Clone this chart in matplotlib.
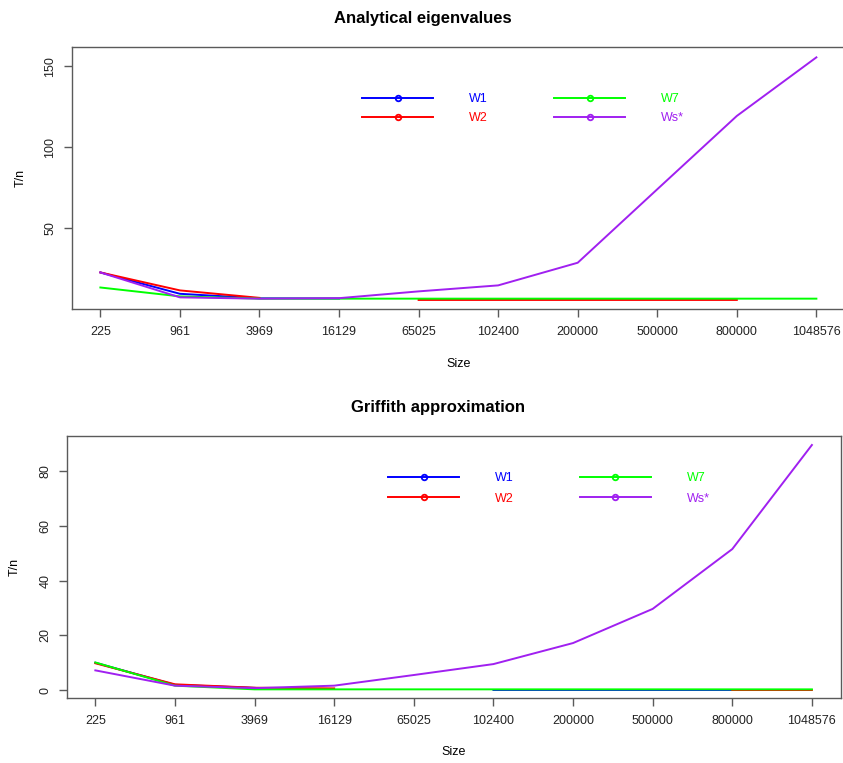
import numpy as np
import matplotlib
matplotlib.use("Agg")
import matplotlib.pyplot as plt
from matplotlib.lines import Line2D

plt.rcParams['font.family'] = ['Liberation Sans', 'DejaVu Sans']

nan = np.nan
sizes = ["225", "961", "3969", "16129", "65025", "102400",
         "200000", "500000", "800000", "1048576"]
labels = ["W1", "W2", "W7", "Ws*"]
colors = ["#0000FF", "#FF0000", "#00FF00", "#A020F0"]

# Analytical eigenvalues (T/n)
an_w1 = [22.6, 9.4, 6.6, 6.5, nan, nan, nan, nan, nan, nan]
an_w2 = [22.6, 11.5, 6.9, nan, 5.6, 5.6, 5.6, 5.6, 5.6, nan]
an_w7 = [13.3, 7.8, 6.4, 6.4, 6.4, 6.4, 6.4, 6.4, 6.4, 6.4]
an_ws = [22.6, 7.2, 6.4, 6.7, 10.9, 14.6, 28.6, 74.0, 119.3, 155.5]

# Griffith approximation (T/n)
gr_w1 = [10.0, 1.9, 0.8, nan, nan, 0.02, 0.02, 0.02, 0.02, nan]
gr_w2 = [9.8, 2.1, 0.85, 0.6, nan, nan, nan, nan, 0.0, 0.0]
gr_w7 = [10.1, 1.6, 0.25, 0.25, 0.25, 0.25, 0.25, 0.25, 0.25, 0.25]
gr_ws = [7.2, 1.6, 0.7, 1.6, 5.5, 9.5, 17.2, 29.7, 51.6, 89.7]

GRAY = "#5a5a5a"


def style_axes(ax, yticks, ylim):
    for s in ax.spines.values():
        s.set_color(GRAY)
        s.set_linewidth(1.0)
    ax.set_xlim(0.64, 10.36)
    ax.set_ylim(*ylim)
    ax.set_xticks(range(1, len(sizes) + 1))
    ax.set_xticklabels(sizes)
    ax.set_yticks(yticks)
    ax.tick_params(axis='both', direction='out', length=5.5, width=1.0,
                   color=GRAY, labelsize=9, labelcolor='#222222')
    ax.tick_params(axis='x', pad=7)
    ax.tick_params(axis='y', pad=5.5)
    for t in ax.get_yticklabels():
        t.set_rotation(90)
        t.set_va('center')


def panel(ax, series, title, title_x, yticks, ylim, leg_anchor, spacing):
    x = np.arange(1, len(sizes) + 1)
    for vals, c in zip(series, colors):
        ax.plot(x, vals, color=c, lw=1.4)
    style_axes(ax, yticks, ylim)
    ax.set_title(title, fontsize=12, fontweight='bold', x=title_x, pad=17)
    ax.set_xlabel("Size", fontsize=9)
    ax.set_ylabel("T/n", fontsize=9)
    handles = [Line2D([0], [0], color=c, lw=1.4, marker='o', markersize=4,
                      markerfacecolor='none', markeredgewidth=1.3)
               for c in colors]
    ax.legend(handles, labels, ncol=2, frameon=False, loc='upper left',
              bbox_to_anchor=leg_anchor, borderpad=0, borderaxespad=0,
              fontsize=9, handlelength=5.7, handletextpad=2.85,
              columnspacing=5.3, labelspacing=spacing, numpoints=1,
              labelcolor='linecolor')


fig = plt.figure(figsize=(8.43, 7.63), dpi=100)
ax1 = fig.add_axes([0.0851, 0.595, 0.9173, 0.3434])
ax2 = fig.add_axes([0.0791, 0.0856, 0.918, 0.343])

panel(ax1, [an_w1, an_w2, an_w7, an_ws], "Analytical eigenvalues", 0.454,
      [50, 100, 150], (0.0, 161.9), (0.3754, 0.8245), 0.6)
panel(ax2, [gr_w1, gr_w2, gr_w7, gr_ws], "Griffith approximation", 0.48,
      [0, 20, 40, 60, 80], (-2.8, 93.0), (0.4152, 0.862), 0.7)

ax1.xaxis.set_label_coords(0.5, -0.186)
ax2.xaxis.set_label_coords(0.5, -0.186)
ax1.yaxis.set_label_coords(-0.058, 0.5)
ax2.yaxis.set_label_coords(-0.059, 0.5)

fig.savefig("out.png", dpi=100)
